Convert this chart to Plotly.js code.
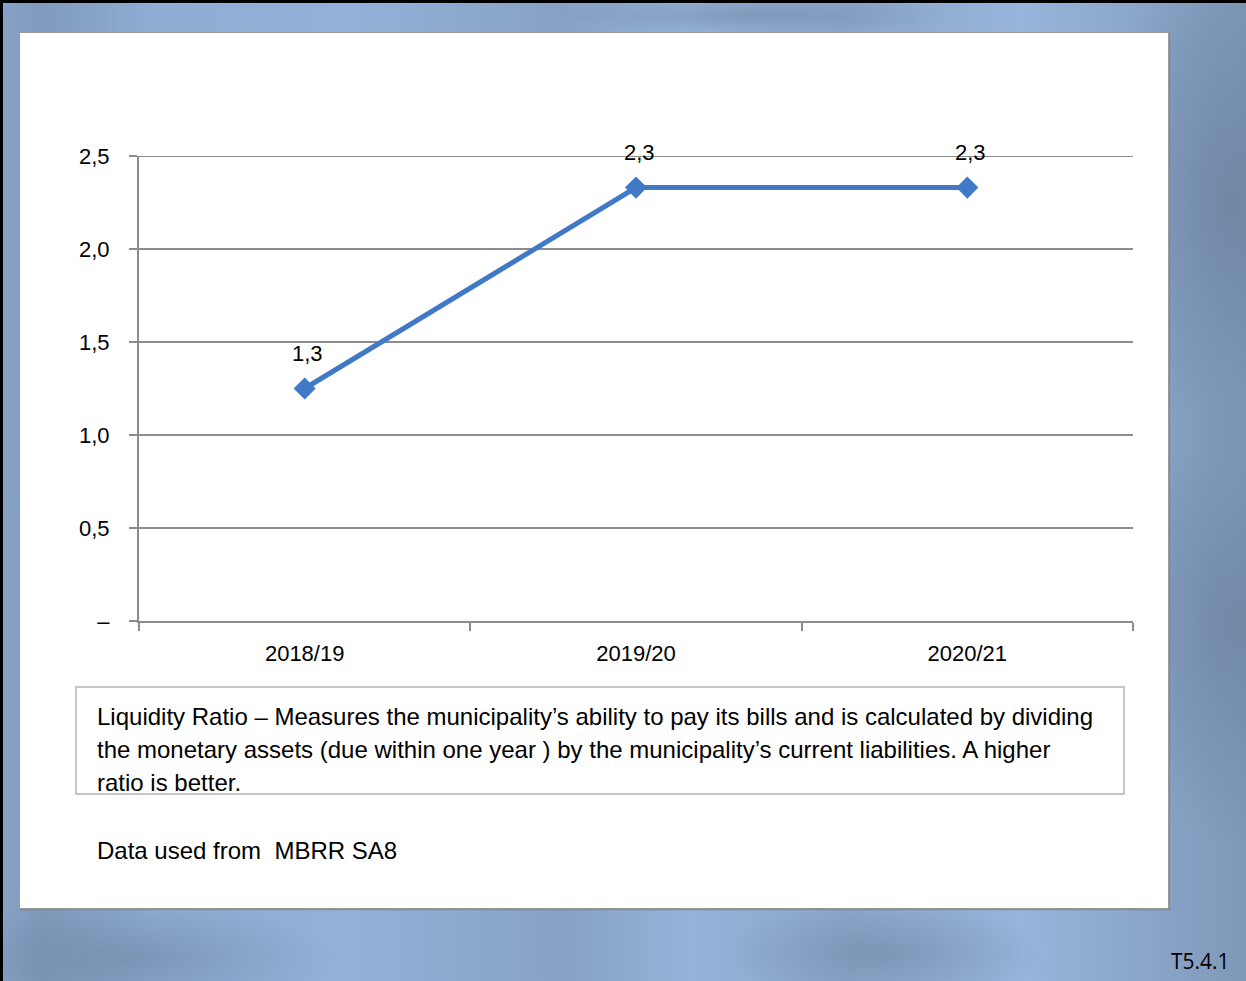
<!DOCTYPE html>
<html>
<head>
<meta charset="utf-8">
<script src="https://cdn.plot.ly/plotly-3.0.1.min.js"></script>
<style>
  html, body { margin:0; padding:0; width:1246px; height:981px; overflow:hidden; }
  #bg {
    position:absolute; left:0; top:0; width:1246px; height:981px; box-sizing:border-box;
    border-left:3px solid #000; border-top:3px solid #000;
    background:
      radial-gradient(ellipse 140px 260px at 1225px 200px, rgba(100,120,150,0.55), rgba(100,120,150,0) 100%),
      radial-gradient(ellipse 140px 220px at 1225px 620px, rgba(100,120,150,0.5), rgba(100,120,150,0) 100%),
      radial-gradient(ellipse 200px 60px at 130px 955px, rgba(100,120,150,0.45), rgba(100,120,150,0) 100%),
      radial-gradient(ellipse 160px 50px at 880px 950px, rgba(100,120,150,0.4), rgba(100,120,150,0) 100%),
      radial-gradient(ellipse 200px 20px at 750px 12px, rgba(100,120,150,0.4), rgba(100,120,150,0) 100%),
      linear-gradient(to right, #86a2c6 0%, #7f9abc 3%, #8fadd3 12%, #93b1d8 28%, #86a1c4 45%, #95b2d8 55%, #8ba6ca 68%, #97b4da 82%, #8aa5c9 92%, #7e98b8 100%);
  }
  #panel {
    position:absolute; left:19px; top:32px; width:1148px; height:875px;
    background:#fff; border:1px solid #9a9a9a; box-shadow:1px 1px 1px #8a8a8a;
  }
  #chart { position:absolute; left:0; top:0; width:1246px; height:981px; }
</style>
</head>
<body>
<div id="bg"></div>
<div id="panel"></div>
<div id="chart"></div>
<script>
// ---- data ----
const categories = ["2018/19", "2019/20", "2020/21"];
const liquidityRatio = [1.25, 2.33, 2.33];
const yTickValues = [0, 0.5, 1.0, 1.5, 2.0, 2.5];
const yTickLabels = ["–", "0,5", "1,0", "1,5", "2,0", "2,5"];
const descriptionLines = [
  "Liquidity Ratio – Measures the municipality’s ability to pay its bills and is calculated by dividing",
  "the monetary assets (due within one year ) by the municipality’s current liabilities. A higher",
  "ratio is better."
];
const sourceNote = "Data used from  MBRR SA8";
const tableRef = "T5.4.1";

// ---- layout helpers (pixel -> paper) ----
const W = 1246, H = 981;
const L = 139, R = 1133, T = 156, B = 621;
const px = x => (x - L) / (R - L);
const py = y => (B - y) / (B - T);

const narrow = "'Liberation Sans Narrow', 'Arial Narrow', 'Liberation Sans', sans-serif";
const fmt = v => v.toFixed(1).replace(".", ",");
const yMax = yTickValues[yTickValues.length - 1];

const trace = {
  type: "scatter",
  mode: "lines+markers",
  x: categories,
  y: liquidityRatio,
  line: { color: "#4279c7", width: 5 },
  marker: { symbol: "diamond", size: 17, color: "#4279c7" },
  cliponaxis: false,
  hoverinfo: "skip"
};

const annotations = [];
// data labels, placed via the axes from the data arrays
categories.forEach((c, i) => {
  annotations.push({
    xref: "x", yref: "y", x: c, y: liquidityRatio[i],
    text: fmt(liquidityRatio[i]), showarrow: false,
    xanchor: "center", yanchor: "middle", xshift: 3, yshift: 35,
    font: { family: narrow, size: 22, color: "#000" }
  });
});
descriptionLines.forEach((t, i) => {
  annotations.push({
    xref: "paper", yref: "paper", x: px(95), y: py(716 + i * 33),
    xanchor: "left", yanchor: "middle", showarrow: false, align: "left",
    text: t, font: { family: narrow, size: 24, color: "#000" }
  });
});
annotations.push({
  xref: "paper", yref: "paper", x: px(95), y: py(850),
  xanchor: "left", yanchor: "middle", showarrow: false,
  text: sourceNote, font: { family: narrow, size: 24, color: "#000" }
});
annotations.push({
  xref: "paper", yref: "paper", x: px(1232), y: py(961),
  xanchor: "right", yanchor: "middle", showarrow: false,
  text: tableRef, font: { family: "'Open Sans', 'DejaVu Sans', sans-serif", size: 21, color: "#000" }
});

const layout = {
  width: W, height: H,
  margin: { l: L, r: W - R, t: T, b: H - B, pad: 0 },
  paper_bgcolor: "rgba(0,0,0,0)",
  plot_bgcolor: "rgba(0,0,0,0)",
  showlegend: false,
  xaxis: {
    type: "category",
    range: [-0.5, 2.5],
    showgrid: false,
    showline: true, linecolor: "#8c8c8c", linewidth: 2,
    ticks: "outside", tickson: "boundaries", ticklen: 8, tickcolor: "#8c8c8c", tickwidth: 2,
    tickfont: { family: narrow, size: 22, color: "#000" },
    ticklabelstandoff: 12,
    fixedrange: true
  },
  yaxis: {
    range: [0, yMax],
    tickvals: yTickValues, ticktext: yTickLabels,
    showgrid: true, gridcolor: "#8c8c8c", gridwidth: 1.5,
    zeroline: false,
    showline: true, linecolor: "#8c8c8c", linewidth: 2,
    ticks: "outside", ticklen: 8, tickcolor: "#8c8c8c", tickwidth: 2,
    tickfont: { family: narrow, size: 22, color: "#000" },
    ticklabelstandoff: 15,
    fixedrange: true
  },
  shapes: [
    {
      type: "line", xref: "paper", yref: "y", x0: 0, x1: 1, y0: yMax, y1: yMax,
      line: { color: "#8c8c8c", width: 2 }, layer: "below"
    },
    {
      type: "rect", xref: "paper", yref: "paper",
      x0: px(76), x1: px(1124), y0: py(794), y1: py(687),
      line: { color: "#b4b4b4", width: 1.5 }, fillcolor: "rgba(0,0,0,0)"
    }
  ],
  annotations: annotations
};

Plotly.newPlot("chart", [trace], layout, { displayModeBar: false, staticPlot: true });
</script>
</body>
</html>
